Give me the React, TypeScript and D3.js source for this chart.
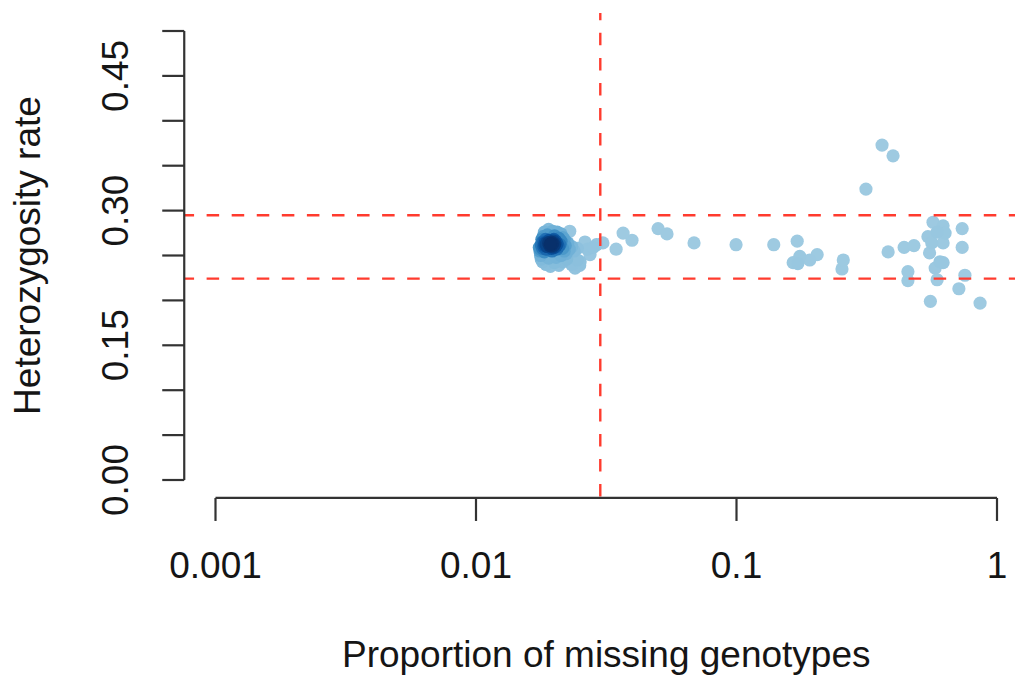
import React from "react";
import * as d3 from "d3";

const W = 1015;
const H = 677;

// Per-sample proportion of missing genotypes
const missing = [
  // dense main group
  0.0196, 0.0199, 0.0194, 0.0201, 0.0197, 0.0203, 0.0192, 0.0198, 0.0205, 0.0195, 0.02, 0.0193,
  0.0202, 0.019, 0.0199, 0.0207, 0.0196, 0.0188, 0.0204, 0.0191, 0.0197, 0.02, 0.0195, 0.0198,
  0.0178, 0.018, 0.0176, 0.0182, 0.0179, 0.0184, 0.0177, 0.0183, 0.0181, 0.0186, 0.0185, 0.0178,
  0.0187, 0.0175, 0.0179, 0.0182, 0.0177, 0.0184, 0.0180, 0.0186,
  0.0183, 0.019, 0.0197, 0.0205, 0.0212, 0.0188, 0.02, 0.0215, 0.0229,
  0.018, 0.0186, 0.0193, 0.02, 0.0208, 0.0215, 0.019, 0.0203, 0.0212, 0.0223, 0.0233, 0.024,
  0.025, 0.0245,
  0.021, 0.0215, 0.0212, 0.022, 0.0218, 0.0225, 0.0228, 0.0222, 0.0233, 0.0238, 0.0245, 0.0208,
  0.0218,
  0.0262, 0.0282, 0.0274, 0.0251, 0.0268, 0.029,
  // just past the missingness cutoff
  0.0307, 0.0345, 0.0367, 0.0397, 0.05, 0.0541,
  // sparse high-missingness samples
  0.362, 0.399, 0.314, 0.0687, 0.0996, 0.139, 0.171, 0.175, 0.165, 0.172, 0.191, 0.204,
  0.257, 0.254, 0.382, 0.44, 0.48, 0.455, 0.455, 0.568, 0.621, 0.632, 0.589, 0.543,
  0.562, 0.621, 0.551, 0.604, 0.621, 0.579, 0.589, 0.735, 0.735, 0.753, 0.714, 0.555,
  0.861,
];

// Per-sample heterozygosity rate
const heterozygosity = [
  0.263, 0.262, 0.265, 0.264, 0.26, 0.261, 0.261, 0.266, 0.263, 0.258, 0.259, 0.263,
  0.266, 0.264, 0.268, 0.26, 0.255, 0.26, 0.257, 0.267, 0.264, 0.262, 0.261, 0.259,
  0.262, 0.258, 0.255, 0.265, 0.268, 0.261, 0.25, 0.254, 0.271, 0.257, 0.268, 0.246,
  0.264, 0.259, 0.261, 0.26, 0.257, 0.264, 0.265, 0.262,
  0.276, 0.279, 0.277, 0.276, 0.274, 0.273, 0.272, 0.27, 0.277,
  0.243, 0.24, 0.238, 0.242, 0.239, 0.243, 0.247, 0.248, 0.25, 0.246, 0.24, 0.236,
  0.239, 0.245,
  0.262, 0.258, 0.266, 0.261, 0.255, 0.264, 0.257, 0.252, 0.26, 0.255, 0.258, 0.269,
  0.268,
  0.265, 0.259, 0.251, 0.243, 0.257, 0.262,
  0.264, 0.257, 0.275, 0.267, 0.28, 0.274,
  0.373, 0.361, 0.324, 0.264, 0.262, 0.262, 0.266, 0.249, 0.242, 0.241, 0.245, 0.251,
  0.245, 0.235, 0.254, 0.259, 0.261, 0.232, 0.222, 0.287, 0.283, 0.275, 0.276, 0.271,
  0.264, 0.264, 0.253, 0.243, 0.242, 0.236, 0.223, 0.28, 0.259, 0.228, 0.213, 0.199,
  0.197,
];

// QC thresholds
const missingCutoff = 0.03;
const hetLower = 0.2242;
const hetUpper = 0.2948;

// Axis ticks
const xTicks = [0.001, 0.01, 0.1, 1];
const xTickLabels = ["0.001", "0.01", "0.1", "1"];
const yTicks = [0, 0.05, 0.1, 0.15, 0.2, 0.25, 0.3, 0.35, 0.4, 0.45, 0.5];
const yLabelTicks = [0, 0.15, 0.3, 0.45];
const yTickLabels = ["0.00", "0.15", "0.30", "0.45"];

// Density palette (blues, light to dark)
const blues = ["#9ECAE1", "#6BAED6", "#4292C6", "#2171B5", "#08519C", "#08306B"];

const FONT = "'Liberation Sans', Arial, Helvetica, sans-serif";

export default function App() {
  // plot region with 4% padding around the data limits
  const xDomain: [number, number] = [0.001, 1];
  const yDomain: [number, number] = [0, 0.5];
  const x = d3.scaleLog().domain(xDomain).range([215.5, 997]);
  const y = d3.scaleLinear().domain(yDomain).range([480, 31]);
  const padX = (997 - 215.5) * 0.04;
  const padY = (480 - 31) * 0.04;
  const left = 215.5 - padX;
  const right = 997 + padX;
  const top = 31 - padY;
  const bottom = 480 + padY;

  const pts = missing.map((m, i) => ({ px: x(m), py: y(heterozygosity[i]) }));
  const bw = 5.5;
  const dens = pts.map((p) =>
    d3.sum(pts, (q) => Math.exp(-((p.px - q.px) ** 2 + (p.py - q.py) ** 2) / (2 * bw * bw)))
  );
  const dMin = d3.min(dens)!;
  const dMax = d3.max(dens)!;
  const ramp = d3.piecewise(d3.interpolateRgb, blues);
  const colored = pts
    .map((p, i) => ({
      ...p,
      d: dens[i],
      c: ramp(Math.pow((dens[i] - dMin) / (dMax - dMin), 1.25)),
    }))
    .sort((a, b) => a.d - b.d);

  const red = "#ff3b2e";
  const axisColor = "#333";
  const textColor = "#151515";
  const period = 25.07;
  const dash = `${period / 2} ${period / 2}`;
  const fs = 37;

  return (
    <svg
      width={W}
      height={H}
      style={{ position: "absolute", left: 0, top: 0, background: "#fff" }}
      fontFamily={FONT}
    >
      <rect width={W} height={H} fill="#fff" />
      <defs>
        <clipPath id="plotArea">
          <rect x={left} y={top} width={right - left} height={bottom - top} />
        </clipPath>
      </defs>

      {/* sample points coloured by local density */}
      <g clipPath="url(#plotArea)">
        {colored.map((p, i) => (
          <circle key={i} cx={p.px} cy={p.py} r={6.6} fill={p.c} />
        ))}
      </g>

      {/* threshold lines */}
      <g clipPath="url(#plotArea)" stroke={red} strokeWidth={2.4} fill="none">
        {[hetUpper, hetLower].map((h) => (
          <line
            key={h}
            x1={left}
            x2={right}
            y1={y(h)}
            y2={y(h)}
            strokeDasharray={dash}
            strokeDashoffset={2.7}
          />
        ))}
        <line
          x1={x(missingCutoff)}
          x2={x(missingCutoff)}
          y1={top}
          y2={bottom}
          strokeDasharray={dash}
          strokeDashoffset={5.3}
        />
      </g>

      {/* y axis */}
      <g stroke={axisColor} strokeWidth={2.2}>
        <line x1={left} x2={left} y1={y(0)} y2={y(0.5)} />
        {yTicks.map((t) => (
          <line key={t} x1={left - 22} x2={left} y1={y(t)} y2={y(t)} />
        ))}
      </g>
      {yLabelTicks.map((t, i) => (
        <text
          key={t}
          transform={`translate(128,${y(t)}) rotate(-90)`}
          textAnchor="middle"
          fontSize={fs}
          fill={textColor}
        >
          {yTickLabels[i]}
        </text>
      ))}
      <text
        transform={`translate(40,${(top + bottom) / 2}) rotate(-90)`}
        textAnchor="middle"
        fontSize={fs}
        fill={textColor}
      >
        Heterozygosity rate
      </text>

      {/* x axis */}
      <g stroke={axisColor} strokeWidth={2.2}>
        <line x1={x(0.001)} x2={x(1)} y1={bottom} y2={bottom} />
        {xTicks.map((t) => (
          <line key={t} x1={x(t)} x2={x(t)} y1={bottom} y2={bottom + 23} />
        ))}
      </g>
      {xTicks.map((t, i) => (
        <text key={t} x={x(t)} y={578} textAnchor="middle" fontSize={fs} fill={textColor}>
          {xTickLabels[i]}
        </text>
      ))}
      <text x={(left + right) / 2} y={667} textAnchor="middle" fontSize={fs} fill={textColor}>
        Proportion of missing genotypes
      </text>
    </svg>
  );
}
